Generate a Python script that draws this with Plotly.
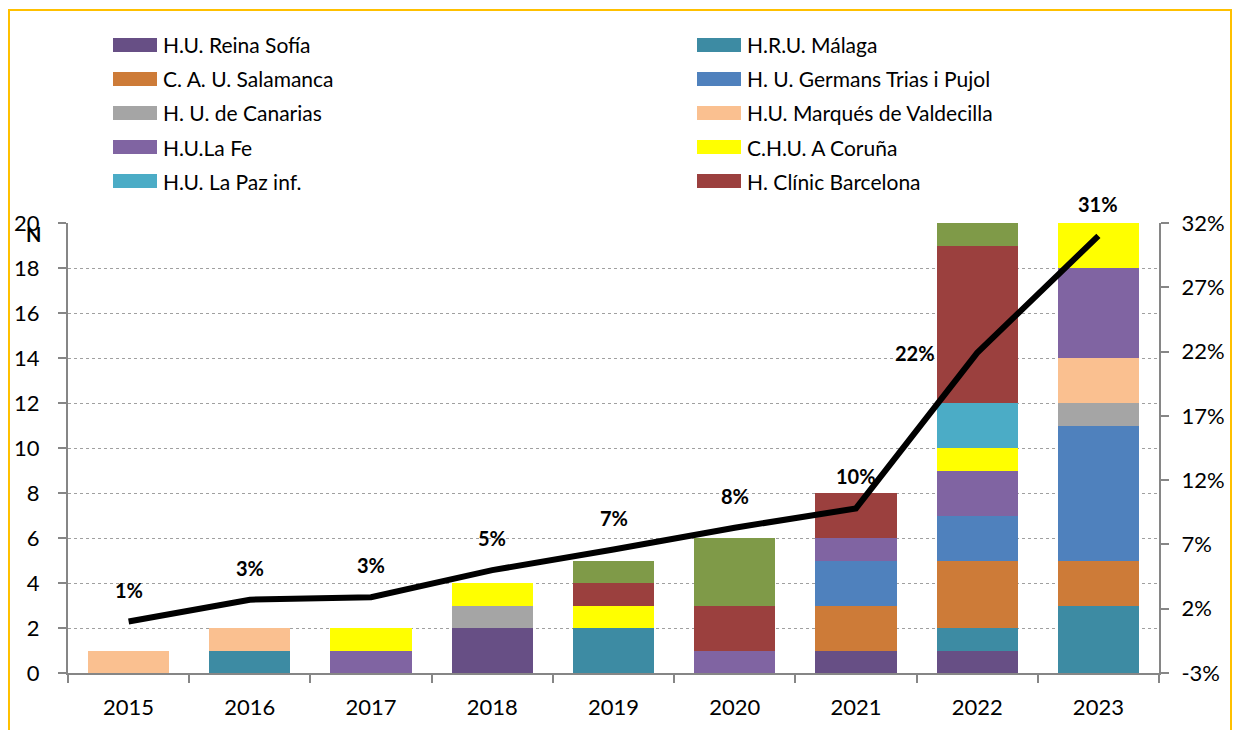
import plotly.graph_objects as go

years = ["2015", "2016", "2017", "2018", "2019", "2020", "2021", "2022", "2023"]

hospitals = [
    "H.U. Reina Sofía",
    "H.R.U. Málaga",
    "C. A. U. Salamanca",
    "H. U. Germans Trias i Pujol",
    "H. U. de Canarias",
    "H.U. Marqués de Valdecilla",
    "H.U.La Fe",
    "C.H.U. A Coruña",
    "H.U. La Paz inf.",
    "H. Clínic Barcelona",
    "Otros",
]
colors = [
    "#674F85", "#3D8BA3", "#CD7B38", "#4F81BD", "#A5A5A5",
    "#FAC090", "#8064A2", "#FFFF00", "#4BACC6", "#9B403E", "#7F9A48",
]

reina_sofia = [0, 0, 0, 2, 0, 0, 1, 1, 0]
malaga      = [0, 1, 0, 0, 2, 0, 0, 1, 3]
salamanca   = [0, 0, 0, 0, 0, 0, 2, 3, 2]
germans     = [0, 0, 0, 0, 0, 0, 2, 2, 6]
canarias    = [0, 0, 0, 1, 0, 0, 0, 0, 1]
valdecilla  = [1, 1, 0, 0, 0, 0, 0, 0, 2]
la_fe       = [0, 0, 1, 0, 0, 1, 1, 2, 4]
coruna      = [0, 0, 1, 1, 1, 0, 0, 1, 2]
la_paz      = [0, 0, 0, 0, 0, 0, 0, 2, 0]
clinic      = [0, 0, 0, 0, 1, 2, 2, 7, 0]
otros       = [0, 0, 0, 0, 1, 3, 0, 1, 0]

series = [reina_sofia, malaga, salamanca, germans, canarias, valdecilla,
          la_fe, coruna, la_paz, clinic, otros]

pct = [1.0, 2.7, 2.9, 5.0, 6.6, 8.3, 9.8, 21.9, 31.0]
pct_labels = ["1%", "3%", "3%", "5%", "7%", "8%", "10%", "22%", "31%"]

y2_ticks = [-3, 2, 7, 12, 17, 22, 27, 32]
y2_ticktext = ["-3%", "2%", "7%", "12%", "17%", "22%", "27%", "32%"]

FONT = "Lato"
OFF = 8  # page body margin
W, H = 1240 - 2 * OFF, 738 - 2 * OFF
# plot area in screen pixels
SL, SR, ST, SB = 68, 1159, 223, 673


def px(x):
    return (x - SL) / (SR - SL)


def py(y):
    return (SB - y) / (SB - ST)


fig = go.Figure()
for name, col, vals in zip(hospitals, colors, series):
    fig.add_trace(go.Bar(
        x=years, y=vals, name=name, marker_color=col,
        marker_line_width=0, showlegend=False, yaxis="y",
    ))

fig.add_trace(go.Scatter(
    x=years, y=pct, mode="lines", line=dict(color="black", width=6),
    yaxis="y2", showlegend=False,
))

annotations = []
for i, (yr, v, lab) in enumerate(zip(years, pct, pct_labels)):
    if yr == "2022":
        xs, ys = -62, 0
    else:
        xs, ys = 0, 32
    annotations.append(dict(
        x=i, y=v, xref="x", yref="y2", text="<b>%s</b>" % lab,
        showarrow=False, xshift=xs, yshift=ys,
        font=dict(family=FONT, size=20, color="black"),
    ))

annotations.append(dict(
    x=px(33), y=py(234), xref="paper", yref="paper", text="<b>N</b>",
    showarrow=False, xanchor="center", yanchor="middle",
    font=dict(family=FONT, size=20, color="black"),
))

shapes = []
# custom legend (two columns, row-wise)
for i, (name, col) in enumerate(zip(hospitals[:10], colors[:10])):
    row, c = divmod(i, 2)
    cy = 45 + row * 34
    sx0 = 113 if c == 0 else 697
    shapes.append(dict(
        type="rect", xref="paper", yref="paper",
        x0=px(sx0), x1=px(sx0 + 44), y0=py(cy + 7), y1=py(cy - 7),
        fillcolor=col, line=dict(width=0),
    ))
    annotations.append(dict(
        x=px(sx0 + 48), y=py(cy), xref="paper", yref="paper", text=name,
        showarrow=False, xanchor="left", yanchor="middle",
        font=dict(family=FONT, size=21, color="black"),
    ))

# outer border
shapes.append(dict(
    type="rect", xref="paper", yref="paper",
    x0=px(9), x1=px(1231), y0=py(760), y1=py(10),
    line=dict(color="#FFC000", width=2), fillcolor="rgba(0,0,0,0)",
))

fig.update_layout(
    width=W, height=H,
    margin=dict(l=SL - OFF, r=(W + OFF) - SR, t=ST - OFF, b=(H + OFF) - SB,
                autoexpand=False),
    barmode="stack", bargap=0.33,
    plot_bgcolor="white", paper_bgcolor="white",
    font=dict(family=FONT, size=20, color="black"),
    xaxis=dict(
        type="category", range=[-0.5, 8.5], showline=True,
        linecolor="#868686", linewidth=2,
        ticks="outside", tickson="boundaries", ticklen=8, tickcolor="#868686",
        tickwidth=2, showgrid=False, tickfont=dict(size=22),
        ticklabelstandoff=14, automargin=False, tickangle=0,
    ),
    yaxis=dict(
        range=[0, 20], dtick=2, showline=True, linecolor="#868686",
        linewidth=2, ticks="outside", ticklen=8, tickcolor="#868686",
        tickwidth=2, showgrid=True, gridcolor="#A0A0A0", griddash="dot",
        gridwidth=1, zeroline=False, tickfont=dict(size=22),
        ticklabelstandoff=14, automargin=False,
    ),
    yaxis2=dict(
        overlaying="y", side="right", range=[-3, 32],
        tickvals=y2_ticks, ticktext=y2_ticktext,
        showline=True, linecolor="#868686", linewidth=2, ticks="outside",
        ticklen=8, tickcolor="#868686", tickwidth=2, showgrid=False,
        zeroline=False, tickfont=dict(size=22), ticklabelstandoff=8,
        automargin=False,
    ),
    annotations=annotations,
    shapes=shapes,
)

fig.write_html("out.html")
